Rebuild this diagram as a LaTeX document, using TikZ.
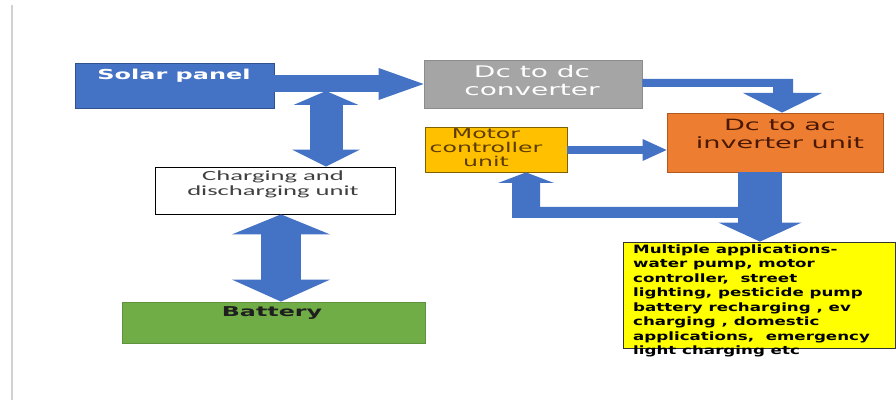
\documentclass[tikz,border=0pt]{standalone}
\usepackage{fontspec}
\usetikzlibrary{arrows.meta,calc}
\newfontfamily\vfont[FakeStretch=1.75]{DejaVu Sans}
\newfontfamily\vfontm[FakeStretch=1.45]{DejaVu Sans}
\newfontfamily\cfont[FakeStretch=1.9]{Carlito}
\definecolor{blk}{HTML}{4472C4}
\definecolor{blkdark}{HTML}{2F528F}
\definecolor{grayb}{HTML}{A5A5A5}
\definecolor{orng}{HTML}{ED7D31}
\definecolor{orngdark}{HTML}{AE5A21}
\definecolor{gold}{HTML}{FFC000}
\definecolor{golddark}{HTML}{7F6000}
\definecolor{grn}{HTML}{70AD47}
\definecolor{ylw}{HTML}{FFFF00}
\definecolor{brn}{HTML}{4A1800}
\definecolor{mbrn}{HTML}{5C3C00}
\definecolor{txtgray}{HTML}{404040}
\tikzset{
  boxnode/.style={rectangle, inner sep=0pt, line width=0.8pt},
  txt/.style={inner sep=0pt, align=center},
  blkfill/.style={fill=blk, draw=none},
}
\begin{document}
\begin{tikzpicture}[x=1pt,y=-1pt]
\useasboundingbox (0,0) rectangle (896,403);
\fill[white] (0,0) rectangle (896,403);
% left page line
\draw[line width=1.4pt, color=black!18] (12,5) -- (12,400);

% boxes
\node[boxnode, fill=blk, draw=blkdark, minimum width=199pt, minimum height=45pt] (solar) at (174.5,85.5) {};
\node[boxnode, fill=grayb, draw=black!45, minimum width=218pt, minimum height=48pt] (dcdc) at (533,84) {};
\node[boxnode, fill=orng, draw=orngdark, minimum width=216pt, minimum height=59pt] (dcac) at (775,142.5) {};
\node[boxnode, fill=gold, draw=golddark, minimum width=142pt, minimum height=45pt] (motor) at (496,149.5) {};
\node[boxnode, fill=white, draw=black, minimum width=240pt, minimum height=47pt] (charge) at (275,190.5) {};
\node[boxnode, fill=grn, draw=grn!85!black, minimum width=303pt, minimum height=41pt] (battery) at (273.5,322.5) {};
\node[boxnode, fill=ylw, draw=black!80, minimum width=272pt, minimum height=106pt] (multi) at (759,295) {};

% texts
\node[txt, text=white, font=\vfont\bfseries\fontsize{13.7}{16}\selectfont] (solar-t) at (174,75.5) {Solar panel};
\node[txt, text=white, font=\vfont\fontsize{16}{18}\selectfont] (dcdc-t) at (532,81) {Dc to dc\\converter};
\node[txt, text=brn, font=\vfont\fontsize{15.5}{17.5}\selectfont] (dcac-t) at (780,134) {Dc to ac\\inverter unit};
\node[txt, text=mbrn, font=\vfont\fontsize{13.5}{14}\selectfont] (motor-t) at (486,148) {Motor\\controller\\unit};
\node[txt, text=txtgray, font=\cfont\fontsize{14}{15}\selectfont] (charge-t) at (273,184) {Charging and\\discharging unit};
\node[txt, text=black!88, font=\vfont\bfseries\fontsize{13.6}{16}\selectfont] (battery-t) at (272,313) {Battery};
\node[inner sep=0pt, align=left, anchor=north west, text=black, font=\vfontm\bfseries\fontsize{11.5}{14.5}\selectfont] (multi-t) at (633,244.5) {Multiple applications-\\water pump, motor\\controller,~ street\\lighting, pesticide pump\\battery recharging , ev\\charging , domestic\\applications,~ emergency\\light charging etc};

% connectors
\coordinate (tap) at (326,91);
\draw[blk, line width=17pt, -{Triangle[width=32pt,length=45pt,line width=0pt]}] (solar.east |- 0,84) -- (dcdc.west |- 0,84);
\draw[blk, line width=33pt, {Triangle[width=65pt,length=14pt,line width=0pt]}-{Triangle[width=68pt,length=17pt,line width=0pt]}] (tap) -- (charge.north -| tap);
\draw[blk, line width=40pt, {Triangle[width=98pt,length=20pt,line width=0pt]}-{Triangle[width=98pt,length=22pt,line width=0pt]}] (charge.south -| 281,0) -- (battery.north -| 281,0);
\fill[blkfill] (dcdc.east |- 0,79) -- (793,79) -- (793,93) -- (822,93) -- (dcac.north -| 782,0) -- (743,93) -- (773,93) -- (773,87) -- (dcdc.east |- 0,87) -- cycle;
\draw[blk, line width=8pt, -{Triangle[width=22pt,length=24pt,line width=0pt]}] (motor.east |- 0,150) -- (dcac.west |- 0,150);
\fill[blkfill] (745,207) -- (745,218) -- (512,218) -- (512,183) -- (498,183) -- (motor.south -| 526,0) -- (554,183) -- (540,183) -- (540,207) -- cycle;
\draw[blk, line width=44pt, -{Triangle[width=83pt,length=19pt,line width=0pt]}] (dcac.south -| 760,0) -- (multi.north -| 760,0);
\end{tikzpicture}
\end{document}
